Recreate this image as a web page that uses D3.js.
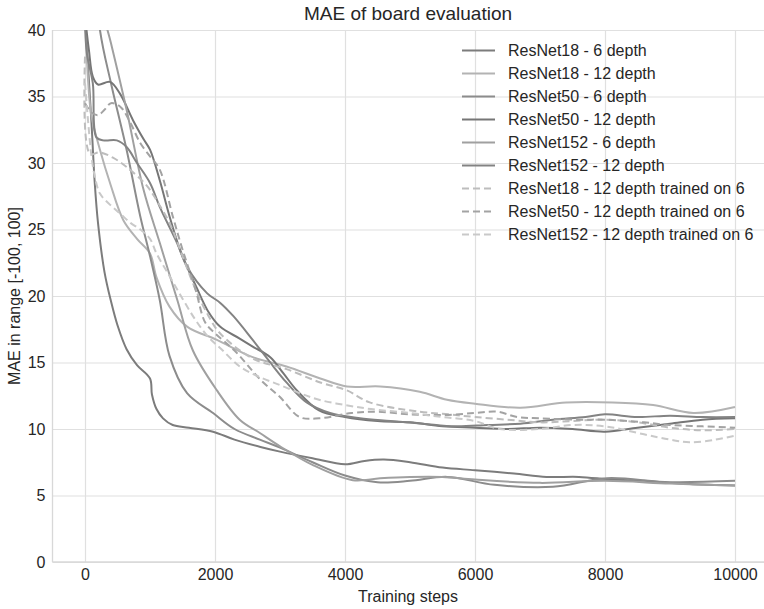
<!DOCTYPE html>
<html>
<head>
<meta charset="utf-8">
<script src="https://cdn.jsdelivr.net/npm/d3@7"></script>
<style>
  body { margin: 0; background: #fff; }
  svg text { font-family: "Liberation Sans", Arial, sans-serif; fill: #262626; }
</style>
</head>
<body>
<div class="chart"></div>
<script>
// series data: [training step, MAE]
const resnet18_6 = [[0,41],[50,37],[100,33],[150,28.5],[200,25.5],[300,21.8],[400,19.6],[500,17.8],[640,16],[800,14.8],[1000,13.8],[1030,12.6],[1100,11.5],[1200,10.8],[1350,10.3],[1600,10.1],[1970,9.8],[2300,9.2],[2700,8.65],[3000,8.3],[3500,7.8],[4000,7.35],[4300,7.6],[4600,7.7],[5000,7.5],[5500,7.1],[6000,6.9],[6600,6.65],[7100,6.4],[7600,6.4],[8100,6.2],[8600,6.1],[9150,5.9],[9600,5.8],[10000,5.75]];
const resnet18_12 = [[0,42],[50,36],[100,33.5],[230,31],[385,28.5],[590,25.7],[800,24.3],[1000,23.2],[1100,21.4],[1300,19.2],[1570,17.7],[2030,16.7],[2580,15.4],[3100,14.7],[3620,13.8],[4030,13.2],[4540,13.2],[5150,12.8],[5570,12.2],[6000,11.9],[6700,11.6],[7400,12.0],[8120,12.0],[8740,11.8],[9360,11.2],[10000,11.65]];
const resnet50_6 = [[0,52],[230,40],[400,36],[640,31],[850,26],[1000,23],[1150,19.7],[1300,15.5],[1570,12.7],[1970,11.2],[2300,10],[2690,9.2],[3000,8.6],[3500,7.5],[4000,6.5],[4500,6.0],[5000,6.1],[5570,6.4],[6300,5.8],[7200,5.65],[8030,6.3],[9000,6.0],[10000,6.1]];
const resnet50_12 = [[0,41],[60,38.5],[120,36.5],[200,35.9],[385,36.1],[540,35.2],[740,33.2],[900,31.8],[1000,31],[1150,28.7],[1300,26],[1460,23.5],[1570,22.2],[1720,20.6],[1900,18.8],[2077,17.7],[2380,16.8],[2580,16.2],[2850,15.4],[3050,14.2],[3260,12.9],[3600,11.4],[4000,10.9],[4500,10.6],[5000,10.5],[5500,10.2],[6000,10.1],[6500,10.0],[7000,10.1],[7500,10.0],[8000,9.8],[8500,10.1],[9000,10.4],[9500,10.7],[10000,10.8]];
const resnet152_6 = [[0,55],[250,42],[400,39],[640,34],[900,28],[1150,24],[1420,19.7],[1660,15.9],[2030,12.9],[2380,10.7],[2690,9.7],[3000,8.7],[3500,7.3],[4120,6.15],[4540,6.3],[5000,6.4],[5500,6.4],[6000,6.2],[7000,5.95],[8000,6.1],[9000,5.9],[10000,5.75]];
const resnet152_12 = [[0,40.5],[30,38.2],[120,36],[180,31.9],[300,31.7],[490,31.7],[640,31.2],[800,30],[1000,28.5],[1150,26.7],[1415,24],[1570,22.2],[1880,20.2],[2077,19.5],[2280,18.5],[2580,16.7],[2850,15],[3100,13.5],[3410,12],[3770,11.2],[4230,10.8],[4700,10.6],[5200,10.4],[5700,10.2],[6200,10.3],[6700,10.4],[7200,10.7],[7700,10.9],[8000,11.1],[8500,10.9],[9000,11.0],[9500,10.9],[10000,10.9]];
const resnet18_12_on6 = [[0,38],[75,30.7],[230,30.8],[430,30.4],[640,29.7],[950,28.3],[1100,27.2],[1300,25.5],[1500,23],[1700,20.5],[1900,18.5],[2077,17.2],[2580,15.3],[3100,14.5],[3620,13.5],[4030,12.9],[4380,12],[5150,11.3],[5600,11.1],[6000,10.9],[6500,10.7],[7000,10.5],[7500,10.6],[8000,10.7],[8500,10.5],[9000,10.1],[9500,9.9],[10000,10.0]];
const resnet50_12_on6 = [[0,34.5],[100,33.8],[200,33.6],[300,34],[400,34.5],[550,34.2],[700,33],[850,31.5],[1000,30.5],[1150,29.5],[1350,26],[1500,23.5],[1700,20.5],[1850,18],[2000,17.2],[2300,15.9],[2700,13.7],[3000,12.4],[3300,10.9],[3600,10.8],[4100,11.2],[4500,11.3],[5000,11.1],[5500,11.05],[6000,11.2],[6340,11.3],[6650,10.9],[7000,10.8],[7600,10.7],[8000,10.7],[8600,10.5],[9000,10.3],[9500,10.2],[10000,10.1]];
const resnet152_12_on6 = [[0,36],[50,33],[100,30.5],[150,29],[230,27.7],[400,26.8],[540,26.2],[700,25.5],[850,25],[1000,24.3],[1100,23.2],[1300,21.5],[1500,19.8],[1700,18.2],[1900,16.9],[2100,16],[2380,14.7],[2690,13.9],[3000,13.3],[3300,12.7],[3600,12.2],[4000,11.8],[4400,11.5],[5000,11.2],[5500,10.9],[6000,10.6],[6380,10.0],[7000,10.0],[7500,10.3],[8000,10.2],[8600,9.6],[9000,9.2],[9300,9.0],[9700,9.2],[10000,9.5]];

const labels = [
    'ResNet18 - 6 depth', 'ResNet18 - 12 depth', 'ResNet50 - 6 depth',
    'ResNet50 - 12 depth', 'ResNet152 - 6 depth', 'ResNet152 - 12 depth',
    'ResNet18 - 12 depth trained on 6', 'ResNet50 - 12 depth trained on 6',
    'ResNet152 - 12 depth trained on 6'
];
const series_values = [resnet18_6, resnet18_12, resnet50_6, resnet50_12, resnet152_6,
                       resnet152_12, resnet18_12_on6, resnet50_12_on6, resnet152_12_on6];
const x_ticks = [0, 2000, 4000, 6000, 8000, 10000];
const y_ticks = [0, 5, 10, 15, 20, 25, 30, 35, 40];

// styles
const colors = ['#7c7c7c', '#b3b3b3', '#8c8c8c', '#767676', '#a0a0a0', '#838383', '#bdbdbd', '#a3a3a3', '#c9c9c9'];
const dashed = [false, false, false, false, false, false, true, true, true];

const svg_width = 764;
const svg_height = 609;
const plot = {left: 52.5, right: 767.5, top: 30, bottom: 562};

const svg = d3.select('.chart').append('svg')
    .attr('width', svg_width)
    .attr('height', svg_height);

const x_scale = d3.scaleLinear([-500, 10500], [plot.left, plot.right]);
const y_scale = d3.scaleLinear([0, 40], [plot.bottom, plot.top]);

svg.append('defs').append('clipPath').attr('id', 'clip')
    .append('rect')
    .attr('x', plot.left).attr('y', plot.top)
    .attr('width', plot.right - plot.left).attr('height', plot.bottom - plot.top);

// grid
const x_axis = d3.axisBottom(x_scale).tickValues(x_ticks)
    .tickSize(-(plot.bottom - plot.top)).tickPadding(7).tickFormat(d3.format('d'));
const y_axis = d3.axisLeft(y_scale).tickValues(y_ticks)
    .tickSize(-(plot.right - plot.left)).tickPadding(7);

const x_axis_draw = svg.append('g')
    .attr('transform', `translate(0,${plot.bottom})`)
    .call(x_axis);
const y_axis_draw = svg.append('g')
    .attr('transform', `translate(${plot.left},0)`)
    .call(y_axis);

[x_axis_draw, y_axis_draw].forEach(g => {
    g.select('.domain').remove();
    g.selectAll('.tick line').attr('stroke', '#e0e0e0').attr('stroke-width', 1.2);
    g.selectAll('.tick text').style('font-size', '16px').attr('fill', '#262626');
});

// spines
svg.append('line').attr('x1', plot.left).attr('x2', plot.left)
    .attr('y1', plot.top).attr('y2', plot.bottom)
    .attr('stroke', '#d8d8d8').attr('stroke-width', 1.3);
svg.append('line').attr('x1', plot.left).attr('x2', plot.right)
    .attr('y1', plot.bottom).attr('y2', plot.bottom)
    .attr('stroke', '#d8d8d8').attr('stroke-width', 1.3);

// lines
const line = d3.line()
    .x(d => x_scale(d[0]))
    .y(d => y_scale(d[1]))
    .curve(d3.curveCatmullRom.alpha(0.5));

svg.append('g').attr('clip-path', 'url(#clip)')
    .selectAll('path')
    .data(series_values)
    .join('path')
    .attr('d', line)
    .attr('fill', 'none')
    .attr('stroke', (d, i) => colors[i])
    .attr('stroke-width', 2)
    .attr('stroke-dasharray', (d, i) => dashed[i] ? '7,4' : null);

// legend
const legend = svg.append('g').selectAll('g')
    .data(labels)
    .join('g')
    .attr('transform', (d, i) => `translate(462,${50.5 + i * 23})`);

legend.append('line')
    .attr('x1', 0).attr('x2', 33)
    .attr('stroke', (d, i) => colors[i])
    .attr('stroke-width', 2)
    .attr('stroke-dasharray', (d, i) => dashed[i] ? '7,4' : null);

legend.append('text')
    .attr('x', 46)
    .attr('dy', '0.35em')
    .style('font-size', '16px')
    .text(d => d);

// titles
svg.append('text')
    .attr('x', 408).attr('y', 20)
    .attr('text-anchor', 'middle')
    .style('font-size', '19px')
    .text('MAE of board evaluation');

svg.append('text')
    .attr('x', 408).attr('y', 602)
    .attr('text-anchor', 'middle')
    .style('font-size', '16px')
    .text('Training steps');

svg.append('text')
    .attr('transform', `translate(20,296) rotate(-90)`)
    .attr('text-anchor', 'middle')
    .style('font-size', '16px')
    .text('MAE in range [-100, 100]');
</script>
</body>
</html>
